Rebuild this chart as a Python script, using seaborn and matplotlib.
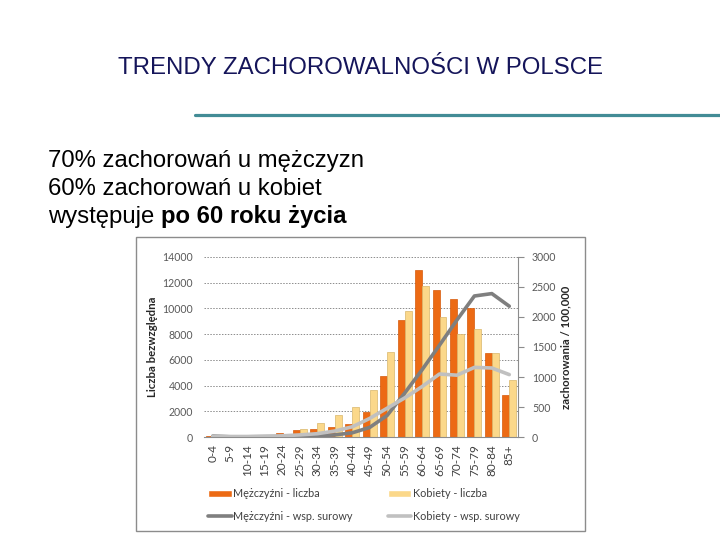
import numpy as np
import pandas as pd
import matplotlib
matplotlib.use("Agg")
import matplotlib.pyplot as plt
import seaborn as sns
from matplotlib.patches import Rectangle
from matplotlib.lines import Line2D

# ---- data ----
age_groups = ["0-4", "5-9", "10-14", "15-19", "20-24", "25-29", "30-34", "35-39",
              "40-44", "45-49", "50-54", "55-59", "60-64", "65-69", "70-74",
              "75-79", "80-84", "85+"]
men_count = [90, 30, 40, 80, 280, 550, 620, 800, 1010, 1980, 4750, 9100, 13000,
             11400, 10750, 10000, 6550, 3240]
women_count = [60, 30, 40, 70, 150, 600, 1060, 1720, 2320, 3650, 6600, 9800, 11750,
               9300, 8000, 8400, 6550, 4430]
men_rate = [15, 5, 5, 8, 10, 12, 18, 35, 70, 160, 360, 730, 1120, 1530, 1950,
            2350, 2390, 2180]
women_rate = [10, 5, 5, 10, 20, 35, 55, 100, 170, 310, 480, 650, 840, 1050, 1030,
              1160, 1150, 1040]
left_ticks = [0, 2000, 4000, 6000, 8000, 10000, 12000, 14000]
right_ticks = [0, 500, 1000, 1500, 2000, 2500, 3000]

lab_m_cnt = "Mężczyźni - liczba"
lab_w_cnt = "Kobiety - liczba"
lab_m_rate = "Mężczyźni - wsp. surowy"
lab_w_rate = "Kobiety - wsp. surowy"

bars = pd.DataFrame({
    "grupa": age_groups * 2,
    "liczba": men_count + women_count,
    "seria": [lab_m_cnt] * len(age_groups) + [lab_w_cnt] * len(age_groups),
})
lines = pd.DataFrame({
    "grupa": age_groups * 2,
    "wsp": men_rate + women_rate,
    "seria": [lab_m_rate] * len(age_groups) + [lab_w_rate] * len(age_groups),
})

sns.set_style("white")
plt.rcParams["font.family"] = ["Liberation Sans", "DejaVu Sans"]

fig = plt.figure(figsize=(7.2, 5.4), dpi=100)
fig.patch.set_facecolor("white")

# ---- slide texts ----
fig.text(360 / 720, 1 - 68 / 540, "TRENDY ZACHOROWALNOŚCI W POLSCE", ha="center", va="center",
         fontsize=17.3, color="#15155a")
fig.add_artist(Line2D([195 / 720, 1.0], [1 - 115 / 540] * 2, color="#438c96", lw=2.3,
                      transform=fig.transFigure))
body_fs = 17.2
fig.text(48 / 720, 1 - 161 / 540, "70% zachorowań u mężczyzn", ha="left", va="center",
         fontsize=body_fs, color="black")
fig.text(48 / 720, 1 - 189 / 540, "60% zachorowań u kobiet", ha="left", va="center",
         fontsize=body_fs, color="black")
t = fig.text(48 / 720, 1 - 217 / 540, "występuje ", ha="left", va="center",
             fontsize=body_fs, color="black")
fig.canvas.draw()
bb = t.get_window_extent()
fig.text(bb.x1 / 720, 1 - 217 / 540, "po 60 roku życia", ha="left", va="center",
         fontsize=body_fs, color="black", fontweight="bold")

# chart frame
fig.add_artist(Rectangle((136 / 720, 1 - 531 / 540), (585 - 136) / 720, (531 - 237) / 540,
                         transform=fig.transFigure, fill=False, edgecolor="#8c8c8c", lw=1.0))

# ---- chart ----
chart_font = ["Lato", "DejaVu Sans"]
ax = fig.add_axes([204 / 720, 1 - 437 / 540, 314 / 720, 180 / 540])
sns.barplot(data=bars, x="grupa", y="liczba", hue="seria", order=age_groups,
            palette=["#ec6a14", "#fbd88a"], width=0.8, ax=ax, legend=True,
            saturation=1, gap=0)
for cont, ec in zip(ax.containers, ["#d65a0c", "#d9b66a"]):
    for p in cont:
        p.set_edgecolor(ec)
        p.set_linewidth(0.5)

ax.set_ylim(0, 14000)
ax.set_xlim(-0.5, len(age_groups) - 0.5)
ax.set_yticks(left_ticks)
ax.set_yticklabels([str(v) for v in left_ticks], fontsize=7.6, color="#595959",
                   family=chart_font)
ax.set_xticks(range(len(age_groups)))
ax.set_xticklabels(age_groups, rotation=90, fontsize=8.5, color="#404040",
                   family=chart_font)
ax.set_xticks(np.arange(-0.5, len(age_groups), 1), minor=True)
ax.tick_params(axis="x", which="major", length=0, pad=5)
ax.tick_params(axis="x", which="minor", length=4, color="#8c8c8c", direction="out")
ax.tick_params(axis="y", length=0, pad=8)
ax.grid(axis="y", linestyle=(0, (1.5, 1.5)), color="#8c8c8c", lw=0.7)
ax.set_axisbelow(True)
for s in ["top", "right", "left"]:
    ax.spines[s].set_visible(False)
ax.spines["bottom"].set_color("#8c8c8c")
ax.set_xlabel("")
ax.set_ylabel("Liczba bezwzględna", fontsize=8.2, fontweight="bold", family=chart_font,
              labelpad=3)
bar_handles, bar_labels = ax.get_legend_handles_labels()
ax.get_legend().remove()

ax2 = ax.twinx()
sns.lineplot(data=lines, x="grupa", y="wsp", hue="seria", palette=["#7f7f7f", "#c0c0c0"],
             lw=2.6, ax=ax2, sort=False)
ax2.set_ylim(0, 3000)
ax2.set_xlim(-0.5, len(age_groups) - 0.5)
ax2.set_yticks(right_ticks)
ax2.set_yticklabels([str(v) for v in right_ticks], fontsize=7.6, color="#595959",
                    family=chart_font)
ax2.tick_params(axis="y", length=4, color="#8c8c8c", direction="out", pad=6)
for s in ["top", "left", "bottom"]:
    ax2.spines[s].set_visible(False)
ax2.spines["right"].set_color("#8c8c8c")
ax2.set_ylabel("zachorowania / 100,000", fontsize=8.2, fontweight="bold",
               family=chart_font, rotation=90, labelpad=3)
ax2.set_xlabel("")
line_handles, line_labels = ax2.get_legend_handles_labels()
ax2.get_legend().remove()

handles = [bar_handles[0], line_handles[0], bar_handles[1], line_handles[1]]
labels = [bar_labels[0], line_labels[0], bar_labels[1], line_labels[1]]
fig.legend(handles, labels, ncol=2, loc="center", bbox_to_anchor=(364 / 720, 1 - 505 / 540),
           frameon=False, prop={"family": chart_font, "size": 7.8}, labelcolor="#404040",
           columnspacing=3.2, handlelength=2.2, handletextpad=0.15, labelspacing=1.05)

fig.savefig("out.png", dpi=100, facecolor="white")
